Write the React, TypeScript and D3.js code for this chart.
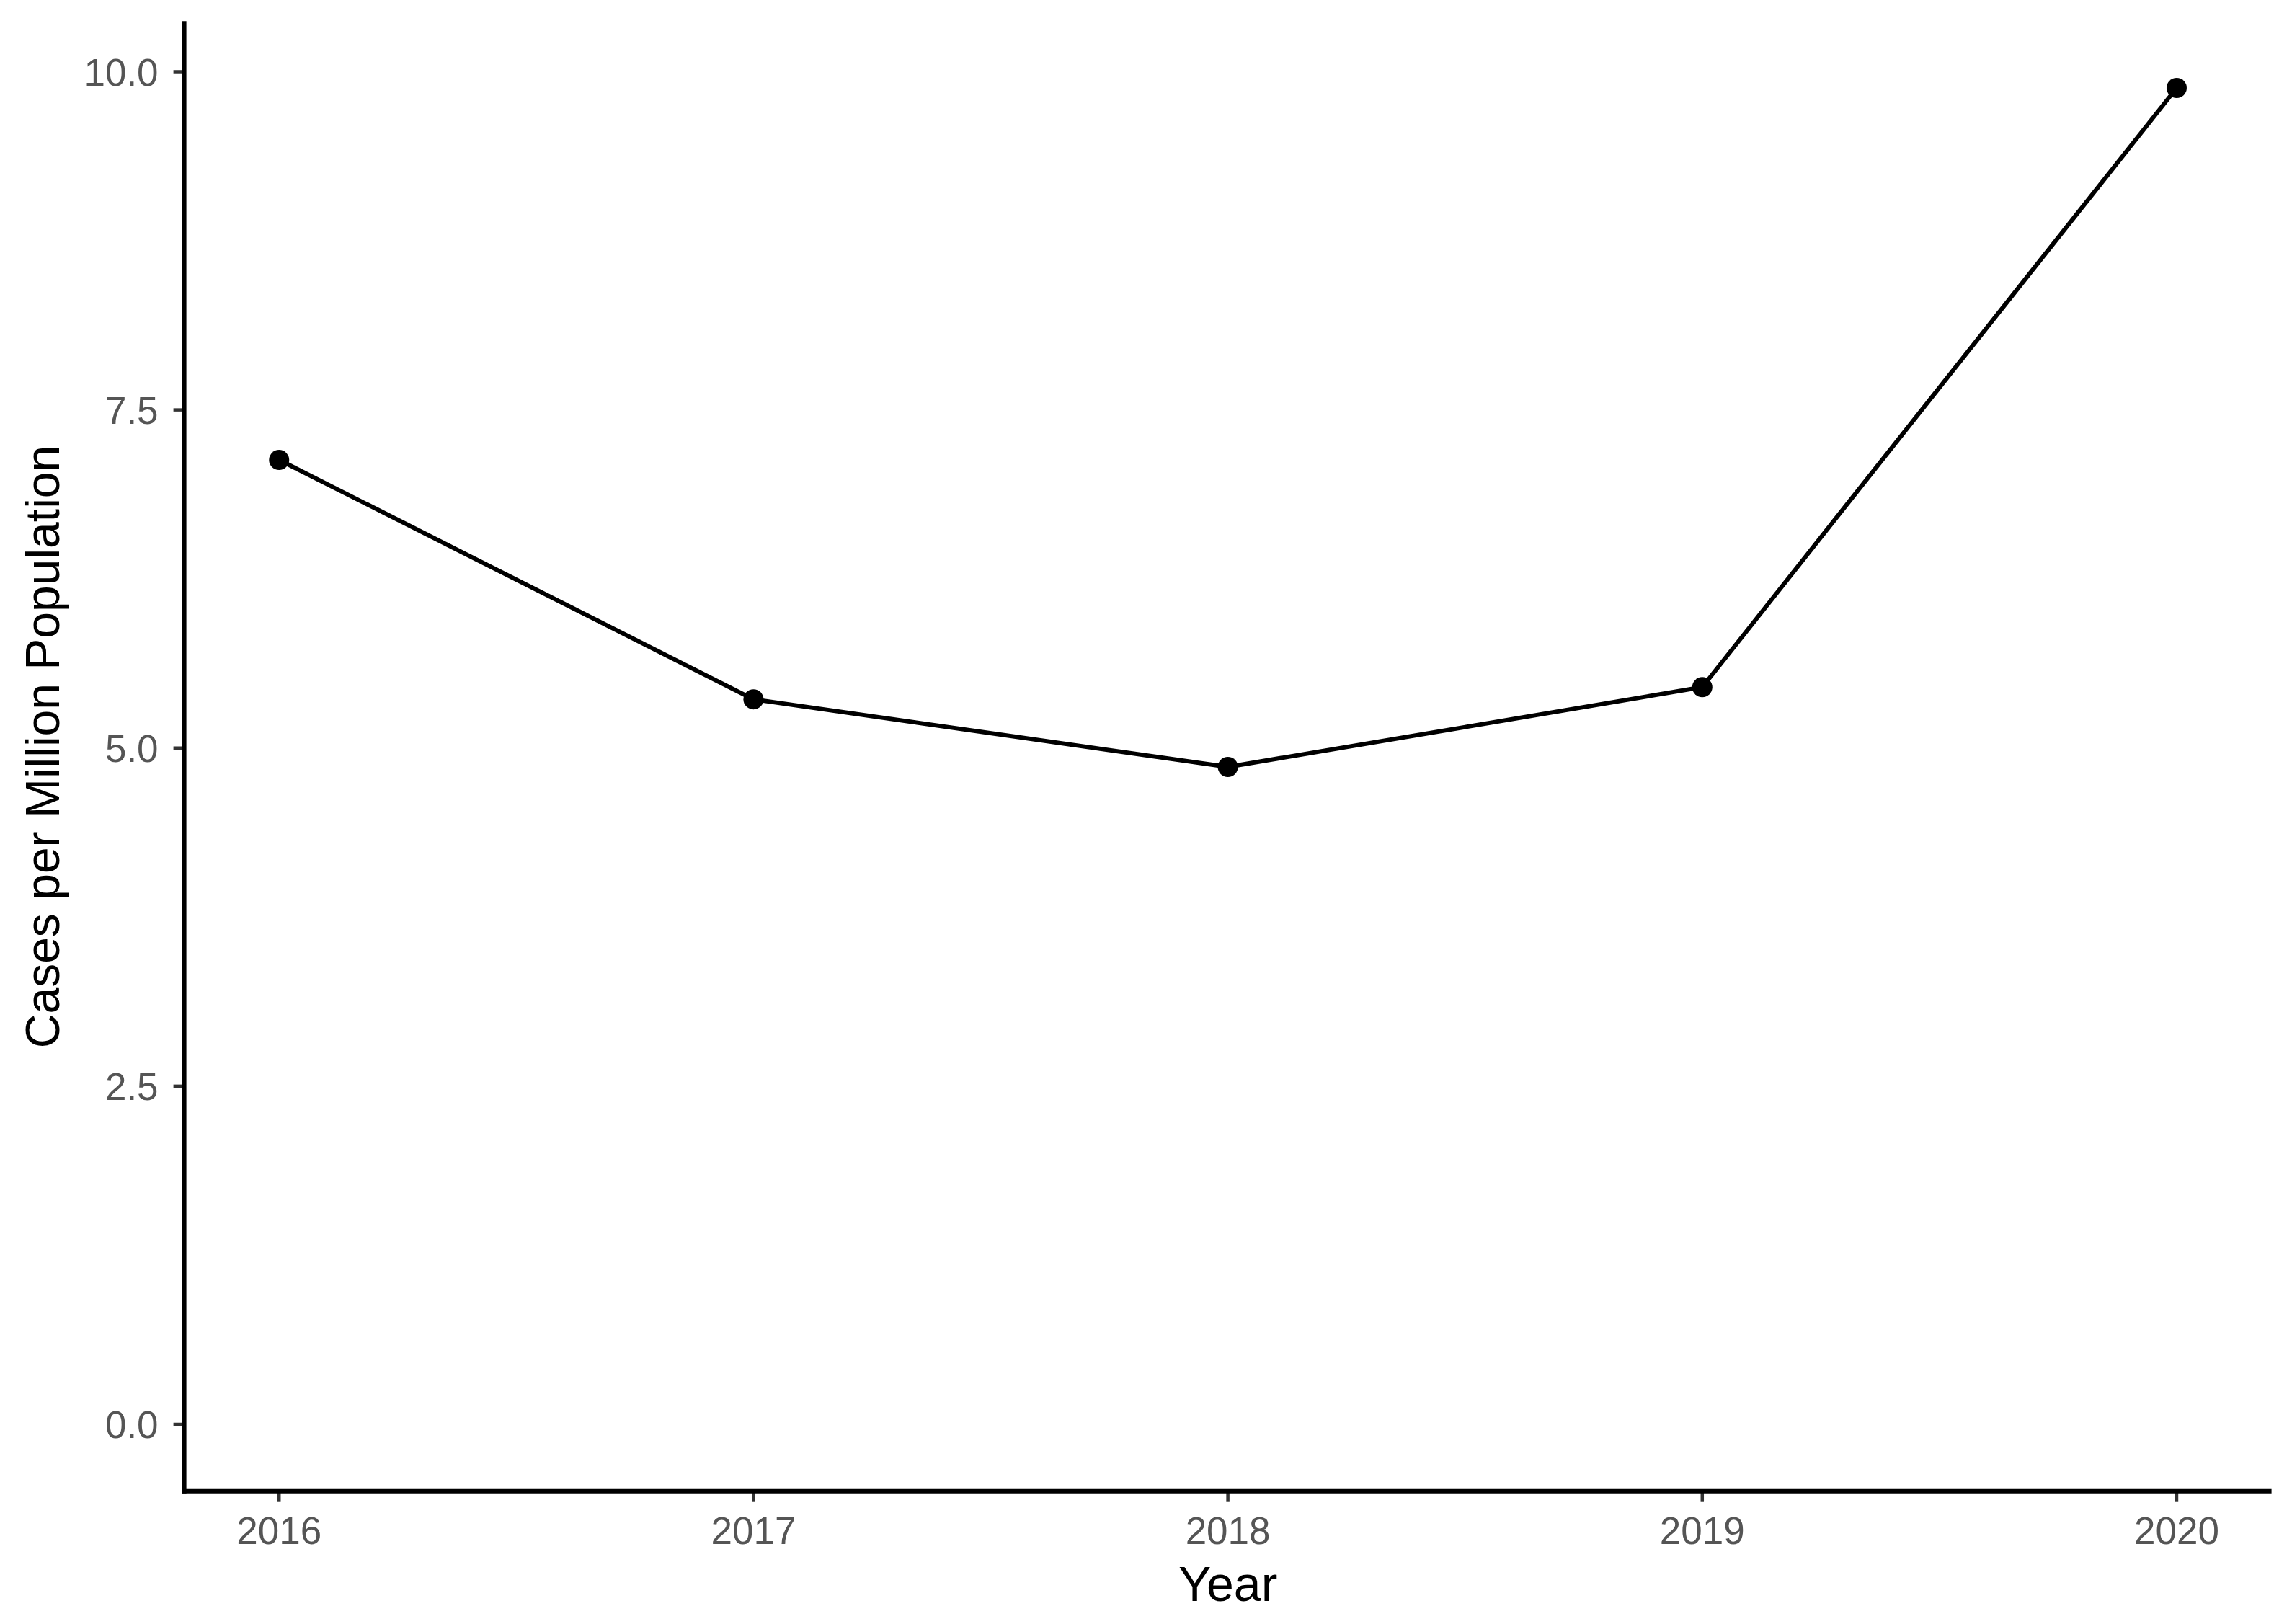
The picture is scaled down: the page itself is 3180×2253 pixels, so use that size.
import React from "react";
import * as d3 from "d3";

const years = [2016, 2017, 2018, 2019, 2020];
const casesPerMillion = [7.13, 5.36, 4.86, 5.45, 9.88];
const yTicks = [0, 2.5, 5, 7.5, 10];
const xTitle = "Year";
const yTitle = "Cases per Million Population";

const W = 3180;
const H = 2253;

export default function App() {
  const x = d3.scaleLinear().domain([2015.8, 2020.2]).range([255.6, 3151.6]);
  const y = d3.scaleLinear().domain([-0.494, 10.374]).range([2068.7, 29.3]);
  const data = years.map((yr, i) => ({ yr, v: casesPerMillion[i] }));
  const line = d3
    .line<{ yr: number; v: number }>()
    .x((d) => x(d.yr))
    .y((d) => y(d.v));
  const font = "'Liberation Sans', Arial, Helvetica, sans-serif";
  const x0 = x(2015.8);
  const x1 = x(2020.2);
  const yb = y(-0.494);
  const yt = y(10.374);
  return (
    <svg
      width={W}
      height={H}
      style={{ position: "absolute", left: 0, top: 0, background: "#fff" }}
      fontFamily={font}
    >
      <rect x={0} y={0} width={W} height={H} fill="#fff" />
      {yTicks.map((t) => (
        <g key={"y" + t}>
          <line x1={x0 - 15} x2={x0} y1={y(t)} y2={y(t)} stroke="#333" strokeWidth={4.5} />
          <text
            x={x0 - 36}
            y={y(t)}
            dy="0.36em"
            textAnchor="end"
            fontSize={53}
            fill="#555"
          >
            {d3.format(".1f")(t)}
          </text>
        </g>
      ))}
      {years.map((yr) => (
        <g key={"x" + yr}>
          <line x1={x(yr)} x2={x(yr)} y1={yb} y2={yb + 15} stroke="#333" strokeWidth={4.5} />
          <text x={x(yr)} y={2142} textAnchor="middle" fontSize={53} fill="#555">
            {yr}
          </text>
        </g>
      ))}
      <line x1={x0} x2={x0} y1={yt} y2={yb + 3} stroke="#000" strokeWidth={6} />
      <line x1={x0 - 3} x2={x1} y1={yb} y2={yb} stroke="#000" strokeWidth={6} />
      <path d={line(data) || ""} fill="none" stroke="#000" strokeWidth={6} />
      {data.map((d) => (
        <circle key={d.yr} cx={x(d.yr)} cy={y(d.v)} r={14} fill="#000" />
      ))}
      <text x={(x0 + x1) / 2} y={2221} textAnchor="middle" fontSize={68} fill="#000">
        {xTitle}
      </text>
      <text
        transform={`translate(82, ${(yt + yb) / 2 - 13}) rotate(-90)`}
        textAnchor="middle"
        fontSize={66}
        fill="#000"
      >
        {yTitle}
      </text>
    </svg>
  );
}
